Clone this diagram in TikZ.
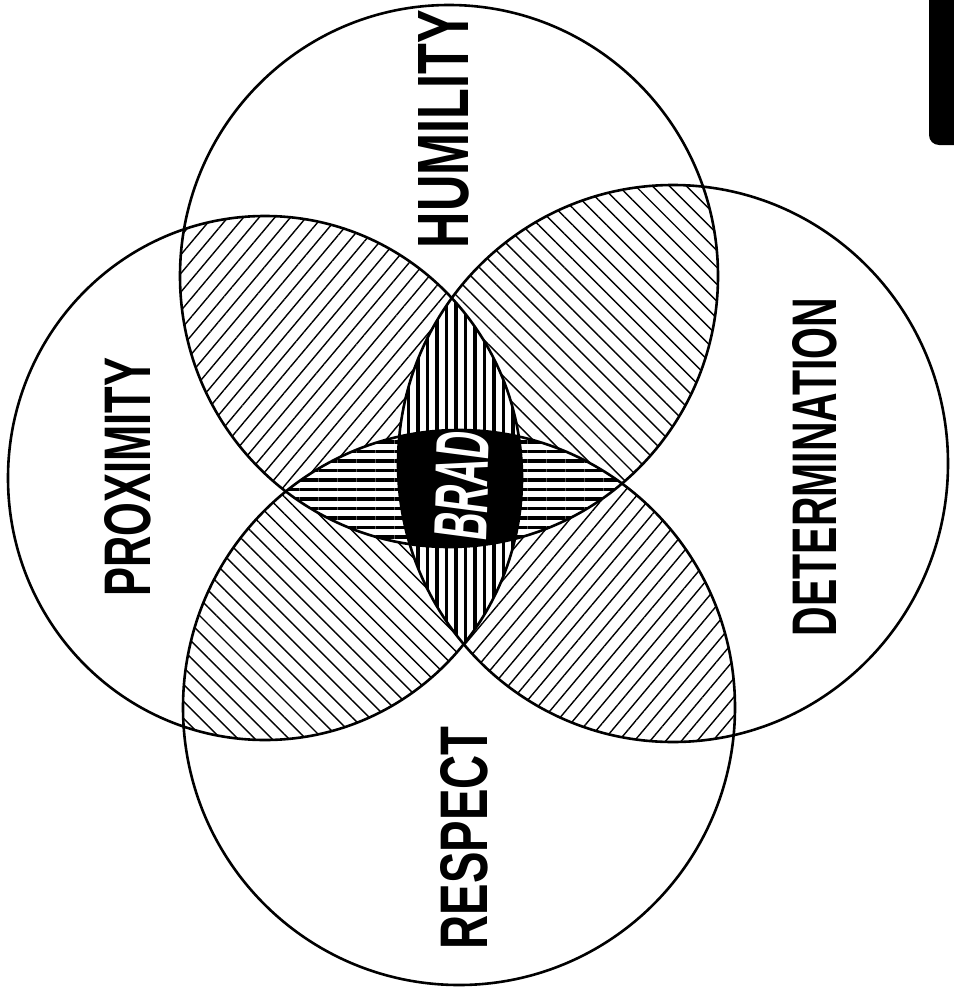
\documentclass[tikz,border=0pt]{standalone}
\usepackage{fontspec}
\setmainfont{Liberation Sans}
\usepackage{graphicx}
\usetikzlibrary{patterns.meta}
\begin{document}
\begin{tikzpicture}[x=1pt,y=-1pt,
  outline/.style={line width=2.6pt, draw=black},
  diagA/.style={pattern={Lines[angle=50,distance=12pt,line width=1.4pt]}},
  diagB/.style={pattern={Lines[angle=-45,distance=12pt,line width=1.4pt]}},
  vhatch/.style={pattern={Lines[angle=90,distance=9.5pt,line width=3.8pt]}},
  hhatch/.style={pattern={Lines[angle=0,distance=9.5pt,line width=3.8pt]}},
  lab/.style={inner sep=0pt, font=\bfseries, text=black}]
\useasboundingbox (0,0) rectangle (953,993);
\fill[white] (0,0) rectangle (953,993);
\def\CT{(449,276) ellipse [x radius=269pt, y radius=271pt]}
\def\CL{(265,478) ellipse [x radius=257pt, y radius=262pt]}
\def\CR{(673,463.5) ellipse [x radius=275pt, y radius=278.5pt]}
\def\CB{(459,707.5) ellipse [x radius=276pt, y radius=277.5pt]}
% pairwise diagonal hatching
\begin{scope}\clip \CT; \fill[diagA] \CL; \end{scope}
\begin{scope}\clip \CT; \fill[diagB] \CR; \end{scope}
\begin{scope}\clip \CB; \fill[diagB] \CL; \end{scope}
\begin{scope}\clip \CB; \fill[diagA] \CR; \end{scope}
% left & right lens: vertical hatching
\begin{scope}\clip \CL; \fill[white] \CR; \fill[vhatch] \CR; \end{scope}
% top & bottom lens: horizontal hatching
\begin{scope}\clip \CT; \fill[white] \CB; \fill[hhatch] \CB; \end{scope}
% all four: black
\begin{scope}\clip \CT; \clip \CB; \clip \CL; \fill[black] \CR; \end{scope}
% outlines
\draw[outline] \CT;
\draw[outline] \CL;
\draw[outline] \CR;
\draw[outline] \CB;
% black object at top right
\fill[black, rounded corners=10pt] (929,-20) rectangle (990,145);
% labels
\node[lab, rotate=90] (humility) at (444,129) {\resizebox{238pt}{50pt}{HUMILITY}};
\node[lab, rotate=90] (proximity) at (128,477) {\resizebox{239pt}{46pt}{PROXIMITY}};
\node[lab, rotate=90] (determination) at (815,467) {\resizebox{338pt}{44pt}{DETERMINATION}};
\node[lab, rotate=90] (respect) at (464,838) {\resizebox{223pt}{47pt}{RESPECT}};
\node[lab, rotate=88, text=white] (brad) at (462,486) {\resizebox{108pt}{52pt}{\textit{BRAD}}};
\end{tikzpicture}
\end{document}
